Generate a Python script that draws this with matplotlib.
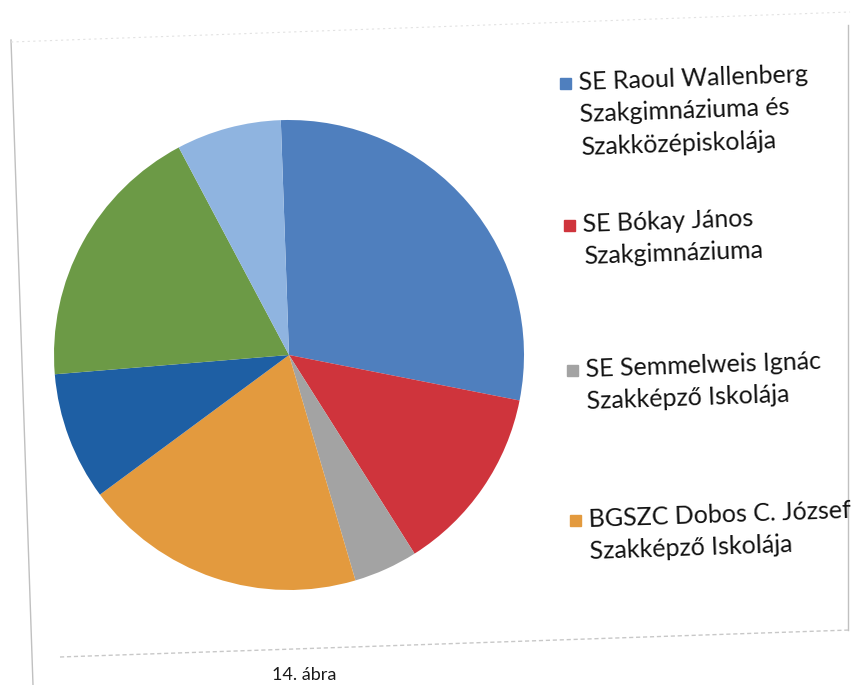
import matplotlib
matplotlib.use("Agg")
import matplotlib.pyplot as plt
from matplotlib.patches import Rectangle
from matplotlib.lines import Line2D

# slice shares (clockwise from the top)
shares = [28.6, 12.9, 4.4, 19.4, 8.8, 18.5, 7.2]
colors = ["#4f7fbe", "#cf343c", "#a3a3a3", "#e39a3e", "#1e5fa4", "#6c9a46", "#8fb4e0"]
# only the first four legend entries are visible on the scan
legend_labels = [
    "SE Raoul Wallenberg\nSzakgimnáziuma és\nSzakközépiskolája",
    "SE Bókay János\nSzakgimnáziuma",
    "SE Semmelweis Ignác\nSzakképző Iskolája",
    "BGSZC Dobos C. József\nSzakképző Iskolája",
]
legend_y = [83, 225, 370, 520]   # first text line, pixels from top
legend_x = [578, 582, 585, 588]
caption = "14. ábra"

W, H = 855, 685
fig = plt.figure(figsize=(W / 100, H / 100), dpi=100)
fig.patch.set_facecolor("white")

# pie: centre (289, 355) px, radius ~235 px
cx, cy, r = 289, 355, 235
ax = fig.add_axes([(cx - r) / W, 1 - (cy + r) / H, 2 * r / W, 2 * r / H])
ax.pie(shares, colors=colors, startangle=92, counterclock=False,
       wedgeprops=dict(linewidth=0))
ax.set_xlim(-1, 1)
ax.set_ylim(-1, 1)
ax.set_aspect("equal")
ax.axis("off")

plt.rcParams["font.family"] = ["Lato", "DejaVu Sans"]
tilt = 2.0
for lab, col, y, x in zip(legend_labels, colors, legend_y, legend_x):
    fig.patches.append(Rectangle(((x - 18) / W, 1 - (y + 6) / H), 11 / W, 11 / H,
                                 transform=fig.transFigure, color=col))
    fig.text(x / W, 1 - (y - 12) / H, lab, fontsize=18, color="#111111",
             va="top", ha="left", linespacing=1.5, rotation=tilt,
             rotation_mode="anchor")

# scanned page border
border = dict(transform=fig.transFigure, color="#c0c0c0", lw=1.0)
fig.lines.append(Line2D([11 / W, 33 / W], [1 - 40 / H, 1 - 685 / H], **border))
fig.lines.append(Line2D([848 / W, 848 / W], [1 - 25 / H, 1 - 630 / H], **border))
fig.lines.append(Line2D([60 / W, 850 / W], [1 - 657 / H, 1 - 630 / H],
                        transform=fig.transFigure, color="#c8c8c8", lw=1.0, ls=(0, (3, 2))))
fig.lines.append(Line2D([11 / W, 850 / W], [1 - 42 / H, 1 - 12 / H],
                        transform=fig.transFigure, color="#e2e2e2", lw=0.8, ls=(0, (2, 3))))

fig.text(272 / W, 2 / H, caption, fontsize=13, color="#1a1a1a", va="bottom", ha="left")

fig.savefig("out.png", dpi=100)
